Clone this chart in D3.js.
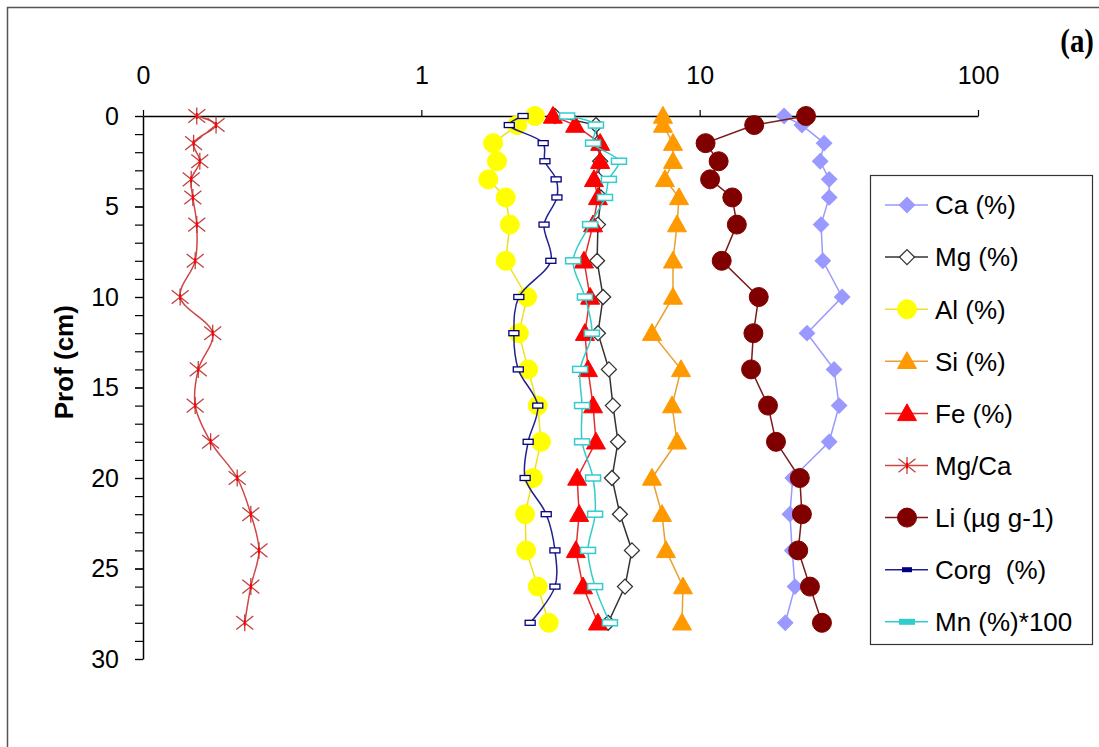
<!DOCTYPE html>
<html><head><meta charset="utf-8">
<script src="https://cdn.jsdelivr.net/npm/d3@7"></script>
<style>body{margin:0;background:#fff}svg{display:block}text{font-family:"Liberation Sans",Arial,sans-serif}</style>
</head><body><svg id="c" width="1099" height="747"></svg>
<script>
const depths = [0,0.5,1.5,2.5,3.5,4.5,6,8,10,12,14,16,18,20,22,24,26,28];
const ca   = [20.1,23.3,28.0,27.1,29.2,29.2,27.3,27.7,32.5,24.3,30.4,31.7,29.2,21.6,21.1,21.5,22.0,20.3];
const mg   = [3.02,4.24,4.31,4.39,4.31,4.42,4.31,4.28,4.50,4.31,4.72,4.88,5.09,4.84,5.17,5.71,5.39,4.69];
const al   = [2.56,2.21,1.81,1.87,1.74,2.01,2.08,2.01,2.40,2.24,2.42,2.62,2.69,2.52,2.36,2.38,2.62,2.87];
const si   = [7.38,7.38,8.02,8.02,7.50,8.43,8.29,8.02,8.02,6.74,8.57,7.96,8.29,6.74,7.32,7.57,8.71,8.64];
const fe   = [2.97,3.57,4.39,4.39,4.17,4.31,4.14,3.84,4.04,3.87,3.97,4.14,4.24,3.63,3.69,3.59,3.81,4.31];
const mgca = [0.156,0.183,0.152,0.160,0.149,0.151,0.156,0.154,0.136,0.178,0.158,0.154,0.175,0.218,0.244,0.261,0.244,0.232];
const li   = [24.1,15.7,10.5,11.7,10.9,13.1,13.6,12.0,16.3,15.6,15.3,17.6,18.8,22.9,23.3,22.6,24.9,27.5];
const corg = [2.32,2.07,2.74,2.78,3.05,3.07,2.76,2.92,2.24,2.15,2.23,2.62,2.42,2.36,2.81,3.02,3.02,2.46];
const mn   = [3.34,4.24,4.14,5.13,4.72,4.57,4.04,3.51,3.87,4.10,3.72,3.78,3.78,4.14,4.21,3.97,4.21,4.76];
const xTicks = [0.1,1,10,100];
const xTickLabels = ["0","1","10","100"];
const yTicks = [0,5,10,15,20,25,30];
const seriesNames = ["Ca (%)","Mg (%)","Al (%)","Si (%)","Fe (%)","Mg/Ca","Li (µg g-1)","Corg  (%)","Mn (%)*100"];

const series = [
  {name:seriesNames[0], v:ca,   line:"#9999FF", marker:"diamond", fill:"#9999FF", stroke:"#9999FF", smooth:false},
  {name:seriesNames[1], v:mg,   line:"#333333", marker:"diamond", fill:"#FFFFFF", stroke:"#333333", smooth:false},
  {name:seriesNames[2], v:al,   line:"#F0E020", marker:"circle",  fill:"#FFFF00", stroke:"#FFFF00", smooth:false},
  {name:seriesNames[3], v:si,   line:"#E8A030", marker:"triangle",fill:"#FF9900", stroke:"#FF9900", smooth:false},
  {name:seriesNames[4], v:fe,   line:"#E03030", marker:"triangle",fill:"#FF0000", stroke:"#FF0000", smooth:false},
  {name:seriesNames[5], v:mgca, line:"#D04545", marker:"star",    fill:"none",    stroke:"#E02020", smooth:true},
  {name:seriesNames[6], v:li,   line:"#7A1A1A", marker:"circle",  fill:"#800000", stroke:"#800000", smooth:false},
  {name:seriesNames[7], v:corg, line:"#202090", marker:"rectS",   fill:"#FFFFFF", stroke:"#000080", smooth:true},
  {name:seriesNames[8], v:mn,   line:"#33CCCC", marker:"rectL",   fill:"#FFFFFF", stroke:"#33CCCC", smooth:true}
];

const svg = d3.select("#c");
const x = d3.scaleLog().domain([0.1,100]).range([143,978]);
const y = d3.scaleLinear().domain([0,30]).range([116,659]);

// outer frame
svg.append("rect").attr("x",7.5).attr("y",7.5).attr("width",1120).attr("height",760)
  .attr("fill","none").attr("stroke","#555").attr("stroke-width",1.5);

// (a)
svg.append("text").attr("x",1094).attr("y",52).attr("text-anchor","end")
  .style("font-family","'Liberation Serif',serif").style("font-weight","bold").style("font-size","34px")
  .attr("transform","translate(1094,0) scale(0.85,1) translate(-1094,0)").text("(a)");

// top axis
const gx = svg.append("g").attr("transform",`translate(0,${y(0)})`)
  .call(d3.axisTop(x).tickValues(xTicks).tickFormat((d,i)=>xTickLabels[i]).tickSize(6).tickPadding(26).tickSizeOuter(0));
gx.select(".domain").attr("stroke","#000").attr("stroke-width",1.5);
gx.selectAll(".tick line").attr("stroke","#000").attr("stroke-width",1.2);
gx.selectAll("text").style("font-size","25px").attr("fill","#000");

// left axis minor + major
const gyMinor = svg.append("g").attr("transform",`translate(${x(0.1)},0)`)
  .call(d3.axisLeft(y).tickValues(d3.range(0,31,1)).tickFormat("").tickSize(8).tickSizeOuter(0));
gyMinor.select(".domain").attr("stroke","#000").attr("stroke-width",1.5);
gyMinor.selectAll(".tick line").attr("stroke","#000").attr("stroke-width",1.2);
const gy = svg.append("g").attr("transform",`translate(${x(0.1)},0)`)
  .call(d3.axisLeft(y).tickValues(yTicks).tickSize(8).tickPadding(16).tickSizeOuter(0));
gy.select(".domain").remove();
gy.selectAll(".tick line").attr("stroke","#000").attr("stroke-width",1.2);
gy.selectAll("text").style("font-size","25px").attr("fill","#000");

svg.append("text").attr("transform",`translate(73,${y(13.6)}) rotate(-90)`).attr("text-anchor","middle")
  .style("font-weight","bold").style("font-size","26px").text("Prof (cm)");

function drawMarker(g, s, cx, cy, legend){
  switch(s.marker){
    case "diamond": {
      const r = 7.5;
      g.append("path").attr("d",`M${cx},${cy-r}L${cx+r},${cy}L${cx},${cy+r}L${cx-r},${cy}Z`)
        .attr("fill",s.fill).attr("stroke",s.stroke).attr("stroke-width",1.3); break;}
    case "circle":
      g.append("circle").attr("cx",cx).attr("cy",cy).attr("r",9.5).attr("fill",s.fill).attr("stroke",s.stroke).attr("stroke-width",1); break;
    case "triangle": {
      const w=9.5, h=16;
      g.append("path").attr("d",`M${cx},${cy-h*0.6}L${cx+w},${cy+h*0.45}L${cx-w},${cy+h*0.45}Z`)
        .attr("fill",s.fill).attr("stroke",s.stroke).attr("stroke-width",1); break;}
    case "star": {
      const r=8.5;
      const p = `M${cx-r},${cy-r*0.8}L${cx+r},${cy+r*0.8}M${cx-r},${cy+r*0.8}L${cx+r},${cy-r*0.8}M${cx},${cy-r}L${cx},${cy+r}`;
      g.append("path").attr("d",p).attr("stroke","#C04040").attr("stroke-width",1.3).attr("fill","none");
      g.append("path").attr("d",`M${cx},${cy-3}L${cx},${cy+3}`).attr("stroke","#FF0000").attr("stroke-width",2); break;}
    case "rectS":
      if(legend) g.append("rect").attr("x",cx-5).attr("y",cy-2.5).attr("width",10).attr("height",5).attr("fill",s.stroke);
      else g.append("rect").attr("x",cx-5).attr("y",cy-2.5).attr("width",10).attr("height",5).attr("fill",s.fill).attr("stroke",s.stroke).attr("stroke-width",1.3);
      break;
    case "rectL":
      if(legend) g.append("rect").attr("x",cx-8).attr("y",cy-3).attr("width",16).attr("height",6).attr("fill",s.stroke);
      else g.append("rect").attr("x",cx-7.5).attr("y",cy-3).attr("width",15).attr("height",6).attr("fill",s.fill).attr("stroke",s.stroke).attr("stroke-width",1.5);
      break;
  }
}

const plot = svg.append("g");
series.forEach(s=>{
  const data = depths.map((d,i)=>({d, v:s.v[i]}));
  const line = d3.line().x(p=>x(p.v)).y(p=>y(p.d)).curve(s.smooth? d3.curveCatmullRom.alpha(0.5) : d3.curveLinear);
  const g = plot.append("g");
  g.append("path").datum(data).attr("d",line).attr("fill","none").attr("stroke",s.line).attr("stroke-width",1.5);
  data.forEach(p=>drawMarker(g, s, x(p.v), y(p.d), false));
});

// legend
const lg = svg.append("g");
lg.append("rect").attr("x",870.5).attr("y",175.5).attr("width",222).attr("height",469)
  .attr("fill","#fff").attr("stroke","#333").attr("stroke-width",1.2);
series.forEach((s,i)=>{
  const cy = 205 + i*52.1;
  lg.append("line").attr("x1",885).attr("x2",928).attr("y1",cy).attr("y2",cy).attr("stroke",s.line).attr("stroke-width",1.5);
  drawMarker(lg, s, 907, cy, true);
  lg.append("text").attr("x",935).attr("y",cy).attr("dy","0.36em").style("font-size","26px")
    .style("white-space","pre").attr("xml:space","preserve").attr("fill","#000").text(s.name);
});
</script></body></html>
